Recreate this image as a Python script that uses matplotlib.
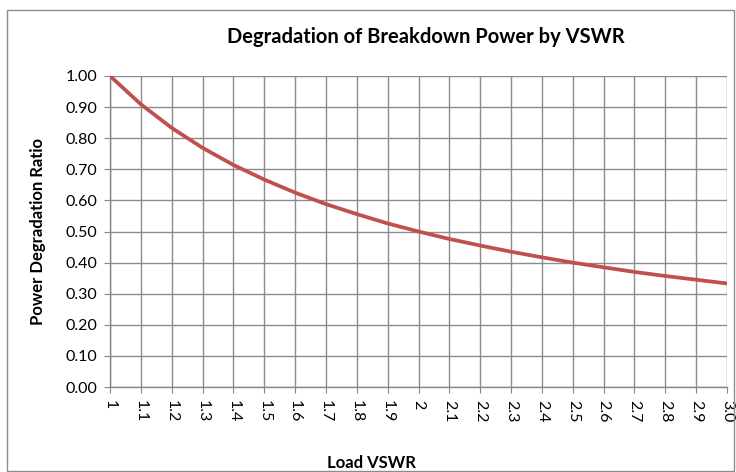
import matplotlib
matplotlib.use('Agg')
import matplotlib.pyplot as plt
from matplotlib.patches import Rectangle

# Load VSWR categories and power degradation ratio
vswr_labels = ['1', '1.1', '1.2', '1.3', '1.4', '1.5', '1.6', '1.7', '1.8', '1.9', '2',
               '2.1', '2.2', '2.3', '2.4', '2.5', '2.6', '2.7', '2.8', '2.9', '3.0']
ratio = [1.000, 0.909, 0.833, 0.769, 0.714, 0.667, 0.625, 0.588, 0.556, 0.526, 0.500,
         0.476, 0.455, 0.435, 0.417, 0.400, 0.385, 0.370, 0.357, 0.345, 0.333]
y_ticks = [0.0, 0.1, 0.2, 0.3, 0.4, 0.5, 0.6, 0.7, 0.8, 0.9, 1.0]

FONT = ['Lato', 'DejaVu Sans']
GRID = '#8c8c8c'
LINE = '#c0504d'

fig = plt.figure(figsize=(7.36, 4.72), dpi=100, facecolor='white')
ax = fig.add_axes([0.1495, 0.180, 0.8383, 0.659])

# outer chart frame
fig.patches.append(Rectangle((0.0095, 0.003), 0.988, 0.976, transform=fig.transFigure,
                             fill=False, edgecolor='#8c8c8c', linewidth=1.0))

x = list(range(len(vswr_labels)))
ax.plot(x, ratio, color=LINE, linewidth=2.7, solid_capstyle='butt', zorder=3)

ax.set_xlim(0, len(vswr_labels) - 1)
ax.set_ylim(0, 1.0)
ax.set_xticks(x)
ax.set_xticklabels(vswr_labels, rotation=-90, fontsize=11.5, family=FONT)
ax.set_yticks(y_ticks)
ax.set_yticklabels([f'{v:.2f}' for v in y_ticks], fontsize=11.5, family=FONT)

ax.grid(True, color=GRID, linewidth=1.0)
ax.set_axisbelow(True)
for side in ['top', 'right']:
    ax.spines[side].set_visible(False)
for side in ['left', 'bottom']:
    ax.spines[side].set_color('#868686')
    ax.spines[side].set_linewidth(1.0)
ax.tick_params(axis='both', direction='out', length=4, color='#868686', pad=5)

fig.text(0.578, 0.922, 'Degradation of Breakdown Power by VSWR', ha='center', va='center',
         fontsize=14.5, fontweight='bold', family=FONT)
fig.text(0.052, 0.51, 'Power Degradation Ratio', ha='center', va='center', rotation=90,
         fontsize=12, fontweight='bold', family=FONT)
fig.text(0.504, 0.019, 'Load VSWR', ha='center', va='center',
         fontsize=12, fontweight='bold', family=FONT)

fig.savefig('out.png', dpi=100, facecolor='white')
